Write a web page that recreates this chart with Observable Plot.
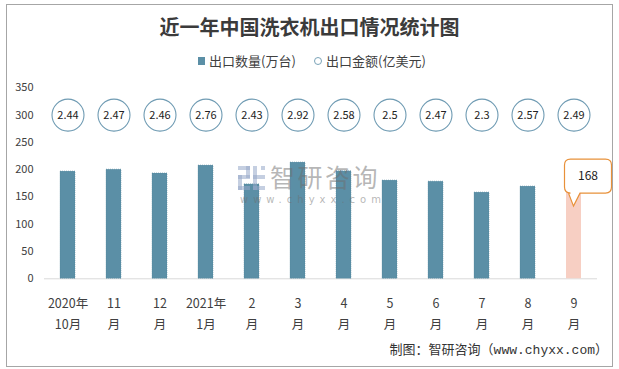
<!DOCTYPE html>
<html><head><meta charset="utf-8">
<script src="https://cdn.jsdelivr.net/npm/d3@7"></script>
<script src="https://cdn.jsdelivr.net/npm/@observablehq/plot@0.6"></script>
<style>
body{margin:0;background:#fff;font-family:"Noto Sans CJK SC",sans-serif;}
#wrap{position:relative;width:619px;height:369px;overflow:hidden;background:#fff;}
#chart{position:absolute;left:0;top:0;}
#frame{position:absolute;left:6px;top:4px;width:607px;height:363px;border:1px solid #a6a6a6;box-sizing:border-box;pointer-events:none;}
#title{position:absolute;left:0;width:619px;top:13px;text-align:center;font-size:20px;font-weight:700;color:#3b3b3b;line-height:28px;white-space:nowrap;}
.lg{position:absolute;top:52px;font-size:13px;color:#404040;line-height:18px;white-space:nowrap;}
#sq{position:absolute;left:198px;top:57px;width:7px;height:8px;background:#5b8fa6;}
#ci{position:absolute;left:314px;top:57px;width:6px;height:6px;border:1px solid #7aa3b8;border-radius:50%;}
#caption{position:absolute;right:11px;top:341px;font-size:13px;color:#333;line-height:20px;white-space:nowrap;font-family:"Liberation Mono","Noto Sans CJK SC",monospace;}
#wm1{position:absolute;left:270px;top:164px;font-size:25px;color:rgba(110,110,110,0.5);letter-spacing:2.5px;line-height:25px;white-space:nowrap;}
#wm2{position:absolute;left:240px;top:194px;font-size:10px;color:rgba(110,110,110,0.5);letter-spacing:5px;line-height:11px;white-space:nowrap;font-family:"DejaVu Sans",sans-serif;}
#logo{position:absolute;left:238px;top:166px;}
</style></head>
<body>
<div id="wrap">
  <div id="chart"></div>
  <div id="title">近一年中国洗衣机出口情况统计图</div>
  <div id="sq"></div><div class="lg" style="left:209px">出口数量(万台)</div>
  <div id="ci"></div><div class="lg" style="left:326px">出口金额(亿美元)</div>
  <svg id="logo" width="28" height="24" viewBox="0 0 28 24">
    <g fill="rgba(150,168,200,0.55)">
      <rect x="0" y="0" width="12" height="4"/>
      <rect x="8" y="0" width="4" height="12"/>
      <rect x="0" y="9" width="12" height="4"/>
      <rect x="0" y="9" width="4" height="15"/>
      <rect x="0" y="20" width="12" height="4"/>
      <rect x="15" y="0" width="4" height="24"/>
      <rect x="15" y="9" width="12" height="4"/>
      <rect x="23" y="0" width="4" height="4"/>
      <rect x="15" y="20" width="12" height="4"/>
    </g>
  </svg>
  <div id="wm1">智研咨询</div>
  <div id="wm2">www.chyxx.com</div>
  <div id="caption">制图：智研咨询（www.chyxx.com）</div>
  <div id="frame"></div>
</div>
<script>
// ---- data ----
const months = ["2020年\n10月","11\n月","12\n月","2021年\n1月","2\n月","3\n月","4\n月","5\n月","6\n月","7\n月","8\n月","9\n月"];
const quantity = [196.5, 200, 193, 207.5, 173, 213, 197, 180, 178, 158, 169, 168]; // 出口数量(万台)
const amount = [2.44, 2.47, 2.46, 2.76, 2.43, 2.92, 2.58, 2.5, 2.47, 2.3, 2.57, 2.49]; // 出口金额(亿美元)
const yTicks = [0, 50, 100, 150, 200, 250, 300, 350];
const highlightMonth = "9\n月";

// ---- config ----
const amountRow = 300; // circles drawn on this level of the quantity axis
const barColor = "#5b8fa6", pinkColor = "#f7cfc3", circleStroke = "#6f9bb3", calloutStroke = "#e8913a";

const table = months.map((m, i) => ({month: m, q: quantity[i], a: amount[i]}));

function callout(index, scales) {
  const bw = scales.x.bandwidth ? scales.x.bandwidth() : 0;
  const d = table.find(t => t.month === highlightMonth);
  const cx = scales.x(d.month) + bw / 2;
  const cy = scales.y(d.q);
  const L = cx - 9, R = cx + 38, T = cy - 27.5, B = cy + 6.5, r = 6;
  const p1 = cx - 5, p2 = cx + 6.5, tipY = cy + 19.5;
  const path = `M${L + r},${T} H${R - r} Q${R},${T} ${R},${T + r} V${B - r} Q${R},${B} ${R - r},${B} H${p2} L${cx},${tipY} L${p1},${B} H${L + r} Q${L},${B} ${L},${B - r} V${T + r} Q${L},${T} ${L + r},${T} Z`;
  const g = d3.create("svg:g");
  g.append("path").attr("d", path).attr("fill", "white").attr("stroke", calloutStroke).attr("stroke-width", 1.2);
  g.append("text").attr("x", (L + R) / 2).attr("y", (T + B) / 2).attr("text-anchor", "middle")
    .attr("dy", "0.35em").attr("font-size", 12).attr("fill", "#222").text(String(d.q));
  return g.node();
}

const chart = Plot.plot({
  width: 619, height: 369,
  marginTop: 87.3, marginBottom: 90.7, marginLeft: 44, marginRight: 22,
  style: {fontFamily: '"Noto Sans CJK SC", sans-serif', background: "transparent", color: "#404040", overflow: "visible"},
  x: {domain: months, paddingInner: 0.674, paddingOuter: 0.337, label: null},
  y: {domain: [0, 350], label: null},
  marks: [
    Plot.ruleY([0], {stroke: "#d9d9d9", strokeWidth: 1}),
    Plot.barY(table.filter(d => d.month !== highlightMonth), {x: "month", y: "q", fill: barColor, stroke: "#4f8299", strokeWidth: 0.5, strokeDasharray: "1,1"}),
    Plot.barY(table.filter(d => d.month === highlightMonth), {x: "month", y: "q", fill: pinkColor}),
    Plot.axisY({ticks: yTicks, tickSize: 0, tickPadding: 11, fontSize: 11, tickFormat: d => String(d)}),
    Plot.axisX({tickSize: 0, tickPadding: 15, fontSize: 12.5, lineHeight: 1.65, tickFormat: d => d}),
    Plot.dot(table, {x: "month", y: () => amountRow, r: 16, stroke: circleStroke, strokeWidth: 1.1, fill: "white"}),
    Plot.text(table, {x: "month", y: () => amountRow, text: d => String(d.a), fontSize: 11, fill: "#222"}),
    callout
  ]
});
document.getElementById("chart").appendChild(chart);
</script>
</body></html>
